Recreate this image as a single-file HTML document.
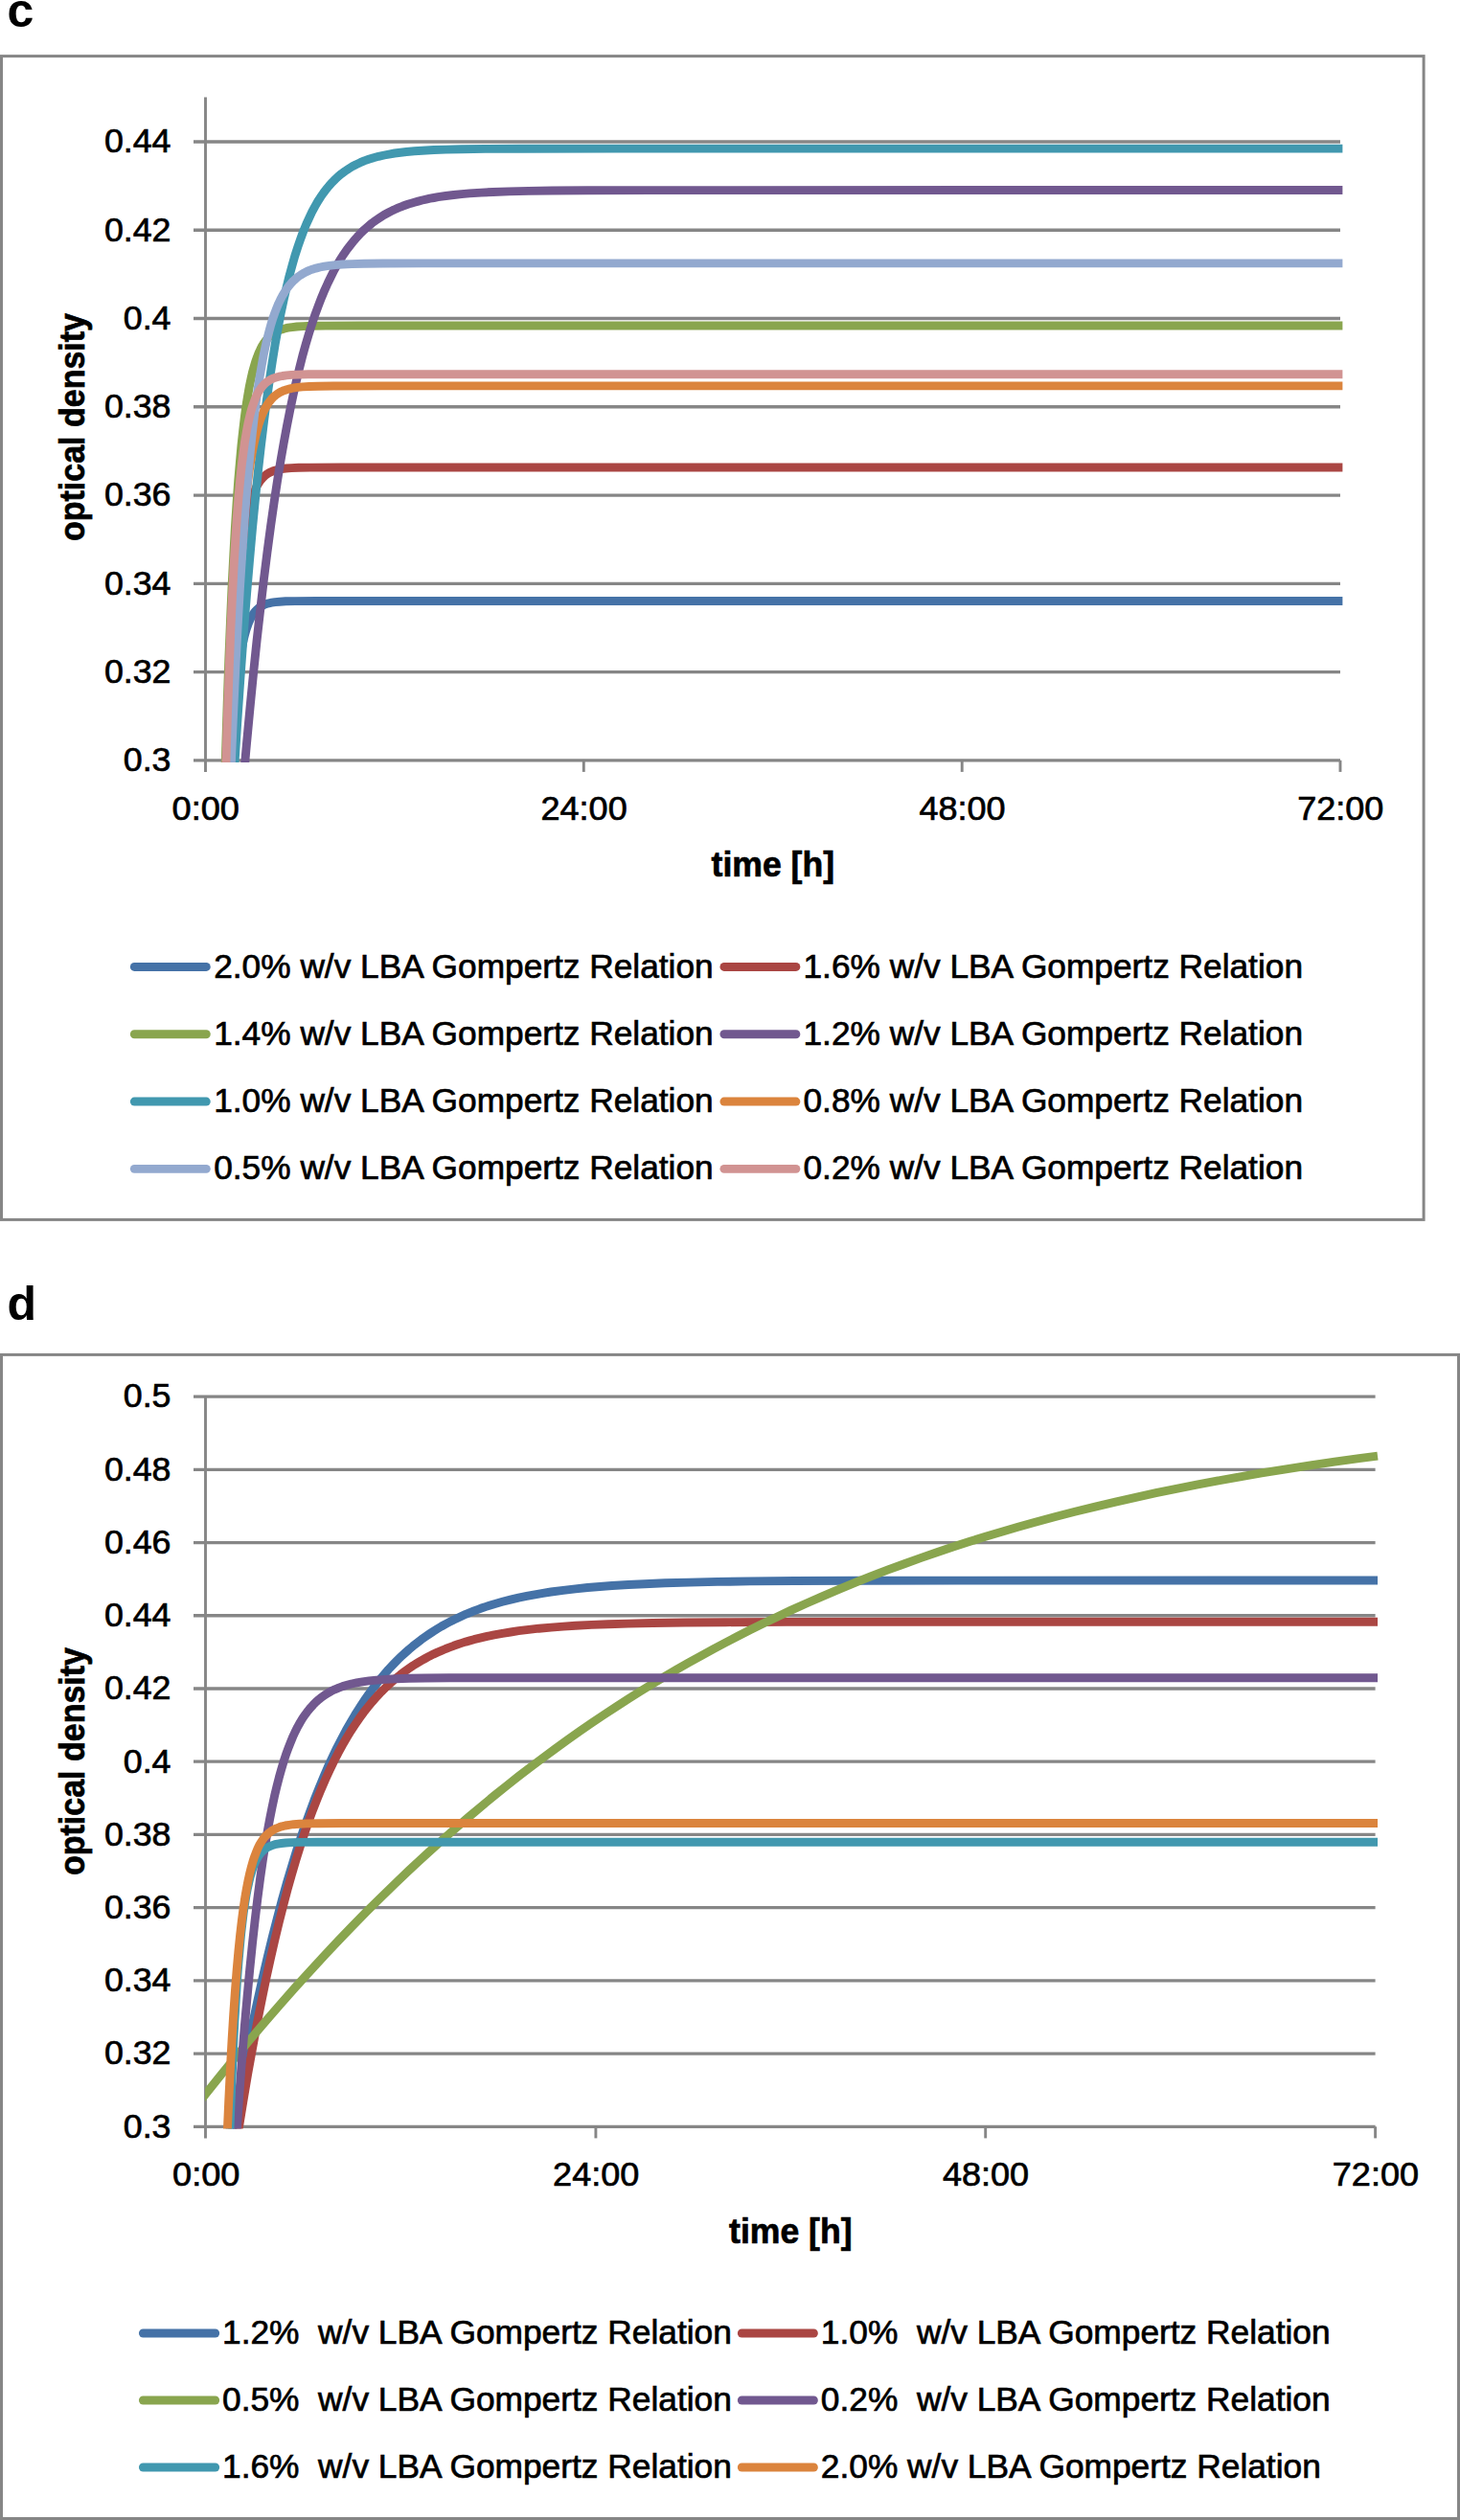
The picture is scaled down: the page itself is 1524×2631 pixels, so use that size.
<!DOCTYPE html>
<html><head><meta charset="utf-8"><title>Gompertz relation charts</title>
<style>html,body{margin:0;padding:0;background:#fff}svg{display:block}text{fill:#000}.r{stroke:#000;stroke-width:0.7px}.b{stroke:#000;stroke-width:0.7px}</style></head><body>
<svg width="1524" height="2631" viewBox="0 0 1524 2631">
<rect width="1524" height="2631" fill="#fff"/>
<text x="7.5" y="27.5" font-family="'Liberation Sans', Arial, Helvetica, sans-serif" font-size="50" font-weight="bold">c</text>
<text x="7.6" y="1378.3" font-family="'Liberation Sans', Arial, Helvetica, sans-serif" font-size="50" font-weight="bold">d</text>
<rect x="1.5" y="58.6" width="1484.6" height="1214.8000000000002" fill="#fff" stroke="#868686" stroke-width="3"/>
<line x1="202.0" y1="793.80" x2="1399.0" y2="793.80" stroke="#868686" stroke-width="3.3"/>
<line x1="202.0" y1="701.54" x2="1399.0" y2="701.54" stroke="#868686" stroke-width="3.3"/>
<line x1="202.0" y1="609.29" x2="1399.0" y2="609.29" stroke="#868686" stroke-width="3.3"/>
<line x1="202.0" y1="517.03" x2="1399.0" y2="517.03" stroke="#868686" stroke-width="3.3"/>
<line x1="202.0" y1="424.77" x2="1399.0" y2="424.77" stroke="#868686" stroke-width="3.3"/>
<line x1="202.0" y1="332.51" x2="1399.0" y2="332.51" stroke="#868686" stroke-width="3.3"/>
<line x1="202.0" y1="240.26" x2="1399.0" y2="240.26" stroke="#868686" stroke-width="3.3"/>
<line x1="202.0" y1="148.00" x2="1399.0" y2="148.00" stroke="#868686" stroke-width="3.3"/>
<line x1="214.5" y1="101.5" x2="214.5" y2="805.9" stroke="#868686" stroke-width="2.9"/>
<line x1="609.3" y1="793.8" x2="609.3" y2="805.9" stroke="#868686" stroke-width="2.9"/>
<line x1="1004.2" y1="793.8" x2="1004.2" y2="805.9" stroke="#868686" stroke-width="2.9"/>
<line x1="1399.0" y1="793.8" x2="1399.0" y2="805.9" stroke="#868686" stroke-width="2.9"/>
<clipPath id="clipc"><rect x="214.1" y="91.5" width="1214.5" height="704.4"/></clipPath>
<g clip-path="url(#clipc)" fill="none" stroke-width="8.9" stroke-linecap="butt" stroke-linejoin="round">
<path d="M235.2,924.5 L236.9,879.8 L238.5,841.3 L239.8,814.4 L241.2,790.7 L242.5,769.9 L243.8,751.6 L245.1,735.5 L246.4,721.5 L247.7,709.2 L249.0,698.5 L250.4,689.2 L251.7,681.1 L253.0,674.0 L254.3,667.8 L255.6,662.5 L256.9,657.8 L258.3,653.8 L259.6,650.3 L260.9,647.3 L262.2,644.6 L263.5,642.3 L265.2,639.9 L266.8,637.9 L268.5,636.2 L270.1,634.7 L271.8,633.6 L273.7,632.4 L275.7,631.4 L278.0,630.6 L280.6,629.8 L283.6,629.2 L287.2,628.6 L291.8,628.2 L298.1,627.8 L307.9,627.6 L330.3,627.5 L1401.4,627.5" stroke="#4572A7"/>
<path d="M234.9,921.4 L236.5,865.1 L238.2,815.2 L239.8,771.1 L241.5,732.5 L243.1,698.7 L244.8,669.3 L246.4,643.7 L248.1,621.6 L249.7,602.6 L251.4,586.1 L253.0,572.0 L254.6,559.8 L256.0,551.4 L257.3,543.9 L258.6,537.2 L259.9,531.4 L261.6,525.1 L263.2,519.6 L264.8,515.0 L266.5,511.0 L268.1,507.6 L269.8,504.7 L271.4,502.3 L273.1,500.2 L274.7,498.4 L276.4,496.8 L278.3,495.3 L280.3,494.0 L282.6,492.8 L284.9,491.8 L287.5,491.0 L290.5,490.2 L294.1,489.5 L298.4,489.0 L304.0,488.6 L311.6,488.3 L323.7,488.1 L356.3,488.0 L1401.4,488.0" stroke="#AA4643"/>
<path d="M231.6,926.4 L233.6,851.3 L235.6,784.1 L237.2,733.9 L238.8,688.6 L240.5,647.9 L242.1,611.6 L243.8,579.2 L245.4,550.4 L247.1,524.9 L248.7,502.3 L250.4,482.3 L252.0,464.7 L253.7,449.2 L255.3,435.6 L256.9,423.7 L258.6,413.2 L260.2,404.0 L261.9,395.9 L263.5,388.8 L265.2,382.7 L266.8,377.2 L268.5,372.5 L270.1,368.4 L271.8,364.8 L273.4,361.6 L275.0,358.9 L276.7,356.5 L278.3,354.4 L280.3,352.2 L282.3,350.3 L284.3,348.8 L286.6,347.2 L288.9,346.0 L291.5,344.8 L294.1,343.9 L297.1,343.0 L300.7,342.2 L305.0,341.6 L309.9,341.0 L316.5,340.6 L325.4,340.3 L339.9,340.1 L379.3,340.0 L1401.4,340.0" stroke="#89A54E"/>
<path d="M244.8,930.1 L249.0,875.5 L253.0,827.8 L256.9,782.6 L260.9,740.0 L264.5,703.2 L268.1,668.5 L271.8,635.8 L275.4,605.0 L279.0,576.1 L282.6,549.1 L286.2,523.8 L289.5,502.2 L292.8,481.9 L296.1,462.9 L299.4,445.1 L302.7,428.4 L306.0,412.7 L309.3,398.0 L312.6,384.3 L315.8,371.5 L319.1,359.6 L322.4,348.4 L325.7,338.0 L329.0,328.2 L332.3,319.2 L335.6,310.7 L338.9,302.8 L342.2,295.5 L345.5,288.7 L348.7,282.3 L352.0,276.4 L355.3,270.8 L358.6,265.7 L362.2,260.5 L365.9,255.7 L369.5,251.2 L373.1,247.1 L376.7,243.3 L380.3,239.8 L384.3,236.3 L388.2,233.0 L392.2,230.1 L396.5,227.2 L400.7,224.5 L405.3,222.0 L409.9,219.6 L411.9,218.7 L416.0,216.9 L420.1,215.3 L424.3,213.8 L428.4,212.4 L432.5,211.2 L436.6,210.1 L440.7,209.0 L444.8,208.1 L448.9,207.2 L453.0,206.5 L457.2,205.7 L465.4,204.5 L473.6,203.5 L481.8,202.6 L490.1,201.9 L502.4,201.1 L514.7,200.5 L531.2,199.9 L551.8,199.4 L576.4,199.0 L613.4,198.7 L679.3,198.6 L1082.3,198.5 L1401.4,198.5" stroke="#71588F"/>
<path d="M237.2,930.4 L240.8,866.3 L244.4,806.0 L247.7,754.6 L251.0,706.4 L254.3,661.4 L257.6,619.4 L260.6,584.2 L263.5,551.3 L266.5,520.6 L269.4,492.1 L272.4,465.5 L275.4,440.9 L278.3,418.1 L281.3,397.0 L284.3,377.4 L287.2,359.4 L290.2,342.7 L293.1,327.3 L296.1,313.2 L299.1,300.1 L302.0,288.1 L305.0,277.1 L307.9,266.9 L310.9,257.6 L313.9,249.0 L316.8,241.1 L319.8,233.9 L322.8,227.3 L325.7,221.2 L328.7,215.6 L331.6,210.5 L334.6,205.8 L337.6,201.5 L340.5,197.6 L343.5,194.0 L346.8,190.3 L350.1,187.0 L353.3,184.0 L356.6,181.3 L360.3,178.6 L363.9,176.2 L367.8,173.8 L371.8,171.7 L376.1,169.7 L380.3,167.9 L384.9,166.3 L389.9,164.7 L395.1,163.3 L401.1,162.0 L407.3,160.8 L411.9,160.0 L416.0,159.5 L424.3,158.5 L432.5,157.8 L440.7,157.2 L453.0,156.5 L465.4,156.1 L481.8,155.7 L506.5,155.4 L543.5,155.2 L642.2,155.1 L1401.4,155.1" stroke="#4198AF"/>
<path d="M236.5,929.4 L238.5,862.4 L240.5,802.6 L242.1,757.9 L243.8,717.7 L245.4,681.5 L247.1,649.1 L248.7,620.3 L250.4,594.6 L252.0,571.7 L253.7,551.5 L255.3,533.6 L256.9,517.7 L258.6,503.8 L260.2,491.4 L261.9,480.6 L263.5,471.0 L265.2,462.7 L266.8,455.3 L268.5,448.8 L270.1,443.1 L271.8,438.1 L273.4,433.7 L275.0,429.9 L276.7,426.6 L278.3,423.6 L280.0,421.0 L281.6,418.8 L283.3,416.8 L285.2,414.7 L287.2,413.0 L289.2,411.5 L291.5,410.0 L293.8,408.8 L296.4,407.7 L299.4,406.7 L302.7,405.8 L306.3,405.0 L310.6,404.4 L315.8,403.9 L322.8,403.5 L332.3,403.2 L348.1,403.0 L398.8,402.9 L1401.4,402.9" stroke="#DB843D"/>
<path d="M236.2,928.5 L238.8,857.1 L241.2,799.6 L243.5,746.8 L245.8,698.5 L248.1,654.4 L250.4,614.4 L252.7,578.2 L255.0,545.4 L257.3,516.0 L259.2,493.1 L261.2,472.3 L263.2,453.4 L265.2,436.2 L267.1,420.6 L269.1,406.4 L271.1,393.6 L273.1,381.9 L275.0,371.4 L277.0,361.9 L279.0,353.3 L281.0,345.6 L282.9,338.6 L284.9,332.2 L286.9,326.5 L288.9,321.4 L290.8,316.8 L292.8,312.6 L294.8,308.8 L297.1,304.9 L299.4,301.4 L301.7,298.3 L304.0,295.6 L306.3,293.2 L308.6,291.1 L311.2,288.9 L313.9,287.1 L316.5,285.5 L319.5,283.9 L322.8,282.4 L326.0,281.2 L329.7,280.1 L333.9,279.0 L338.5,278.1 L343.8,277.3 L350.1,276.6 L357.6,276.0 L367.2,275.6 L380.0,275.2 L399.7,275.0 L440.7,274.9 L1401.4,274.9" stroke="#93A9CF"/>
<path d="M232.6,921.1 L234.2,855.7 L235.9,797.1 L237.5,744.9 L239.2,698.6 L240.8,657.8 L242.5,622.0 L244.1,590.6 L245.8,563.3 L247.4,539.5 L249.0,518.9 L250.7,501.0 L252.3,485.6 L254.0,472.2 L255.6,460.7 L257.3,450.8 L258.9,442.3 L260.6,434.9 L262.2,428.6 L263.9,423.2 L265.5,418.6 L267.1,414.6 L268.8,411.2 L270.4,408.2 L272.1,405.7 L273.7,403.6 L275.4,401.7 L277.0,400.1 L279.0,398.5 L281.0,397.2 L283.3,395.9 L285.6,394.9 L288.2,394.0 L291.2,393.2 L294.8,392.5 L299.1,391.9 L304.3,391.4 L311.2,391.1 L321.8,390.8 L343.8,390.7 L1401.4,390.7" stroke="#D19392"/>
</g>
<text x="178.5" y="805.1" text-anchor="end" class="r" font-family="'Liberation Sans', Arial, Helvetica, sans-serif" font-size="35" textLength="49.7" lengthAdjust="spacingAndGlyphs">0.3</text>
<text x="178.5" y="712.8" text-anchor="end" class="r" font-family="'Liberation Sans', Arial, Helvetica, sans-serif" font-size="35" textLength="69.6" lengthAdjust="spacingAndGlyphs">0.32</text>
<text x="178.5" y="620.6" text-anchor="end" class="r" font-family="'Liberation Sans', Arial, Helvetica, sans-serif" font-size="35" textLength="69.6" lengthAdjust="spacingAndGlyphs">0.34</text>
<text x="178.5" y="528.3" text-anchor="end" class="r" font-family="'Liberation Sans', Arial, Helvetica, sans-serif" font-size="35" textLength="69.6" lengthAdjust="spacingAndGlyphs">0.36</text>
<text x="178.5" y="436.1" text-anchor="end" class="r" font-family="'Liberation Sans', Arial, Helvetica, sans-serif" font-size="35" textLength="69.6" lengthAdjust="spacingAndGlyphs">0.38</text>
<text x="178.5" y="343.8" text-anchor="end" class="r" font-family="'Liberation Sans', Arial, Helvetica, sans-serif" font-size="35" textLength="49.7" lengthAdjust="spacingAndGlyphs">0.4</text>
<text x="178.5" y="251.6" text-anchor="end" class="r" font-family="'Liberation Sans', Arial, Helvetica, sans-serif" font-size="35" textLength="69.6" lengthAdjust="spacingAndGlyphs">0.42</text>
<text x="178.5" y="159.3" text-anchor="end" class="r" font-family="'Liberation Sans', Arial, Helvetica, sans-serif" font-size="35" textLength="69.6" lengthAdjust="spacingAndGlyphs">0.44</text>
<text x="214.8" y="855.6" text-anchor="middle" class="r" font-family="'Liberation Sans', Arial, Helvetica, sans-serif" font-size="35" textLength="70.4" lengthAdjust="spacingAndGlyphs">0:00</text>
<text x="609.6" y="855.6" text-anchor="middle" class="r" font-family="'Liberation Sans', Arial, Helvetica, sans-serif" font-size="35" textLength="90.2" lengthAdjust="spacingAndGlyphs">24:00</text>
<text x="1004.5" y="855.6" text-anchor="middle" class="r" font-family="'Liberation Sans', Arial, Helvetica, sans-serif" font-size="35" textLength="90.2" lengthAdjust="spacingAndGlyphs">48:00</text>
<text x="1399.3" y="855.6" text-anchor="middle" class="r" font-family="'Liberation Sans', Arial, Helvetica, sans-serif" font-size="35" textLength="90.2" lengthAdjust="spacingAndGlyphs">72:00</text>
<text x="806.8" y="915" text-anchor="middle" class="b" font-family="'Liberation Sans', Arial, Helvetica, sans-serif" font-size="36" font-weight="bold" textLength="128.5" lengthAdjust="spacingAndGlyphs">time [h]</text>
<text transform="translate(88,446) rotate(-90)" text-anchor="middle" class="b" font-family="'Liberation Sans', Arial, Helvetica, sans-serif" font-size="36" font-weight="bold" textLength="238" lengthAdjust="spacingAndGlyphs">optical density</text>
<line x1="140.3" y1="1009.45" x2="215.3" y2="1009.45" stroke="#4572A7" stroke-width="8.9" stroke-linecap="round"/>
<text x="223.2" y="1020.6" class="r" font-family="'Liberation Sans', Arial, Helvetica, sans-serif" font-size="35" xml:space="preserve" style="white-space:pre" textLength="521.5" lengthAdjust="spacingAndGlyphs">2.0% w/v LBA Gompertz Relation</text>
<line x1="755.9" y1="1009.45" x2="830.9" y2="1009.45" stroke="#AA4643" stroke-width="8.9" stroke-linecap="round"/>
<text x="838.5" y="1020.6" class="r" font-family="'Liberation Sans', Arial, Helvetica, sans-serif" font-size="35" xml:space="preserve" style="white-space:pre" textLength="521.5" lengthAdjust="spacingAndGlyphs">1.6% w/v LBA Gompertz Relation</text>
<line x1="140.3" y1="1079.75" x2="215.3" y2="1079.75" stroke="#89A54E" stroke-width="8.9" stroke-linecap="round"/>
<text x="223.2" y="1090.8" class="r" font-family="'Liberation Sans', Arial, Helvetica, sans-serif" font-size="35" xml:space="preserve" style="white-space:pre" textLength="521.5" lengthAdjust="spacingAndGlyphs">1.4% w/v LBA Gompertz Relation</text>
<line x1="755.9" y1="1079.75" x2="830.9" y2="1079.75" stroke="#71588F" stroke-width="8.9" stroke-linecap="round"/>
<text x="838.5" y="1090.8" class="r" font-family="'Liberation Sans', Arial, Helvetica, sans-serif" font-size="35" xml:space="preserve" style="white-space:pre" textLength="521.5" lengthAdjust="spacingAndGlyphs">1.2% w/v LBA Gompertz Relation</text>
<line x1="140.3" y1="1150.05" x2="215.3" y2="1150.05" stroke="#4198AF" stroke-width="8.9" stroke-linecap="round"/>
<text x="223.2" y="1161.1" class="r" font-family="'Liberation Sans', Arial, Helvetica, sans-serif" font-size="35" xml:space="preserve" style="white-space:pre" textLength="521.5" lengthAdjust="spacingAndGlyphs">1.0% w/v LBA Gompertz Relation</text>
<line x1="755.9" y1="1150.05" x2="830.9" y2="1150.05" stroke="#DB843D" stroke-width="8.9" stroke-linecap="round"/>
<text x="838.5" y="1161.1" class="r" font-family="'Liberation Sans', Arial, Helvetica, sans-serif" font-size="35" xml:space="preserve" style="white-space:pre" textLength="521.5" lengthAdjust="spacingAndGlyphs">0.8% w/v LBA Gompertz Relation</text>
<line x1="140.3" y1="1220.35" x2="215.3" y2="1220.35" stroke="#93A9CF" stroke-width="8.9" stroke-linecap="round"/>
<text x="223.2" y="1231.4" class="r" font-family="'Liberation Sans', Arial, Helvetica, sans-serif" font-size="35" xml:space="preserve" style="white-space:pre" textLength="521.5" lengthAdjust="spacingAndGlyphs">0.5% w/v LBA Gompertz Relation</text>
<line x1="755.9" y1="1220.35" x2="830.9" y2="1220.35" stroke="#D19392" stroke-width="8.9" stroke-linecap="round"/>
<text x="838.5" y="1231.4" class="r" font-family="'Liberation Sans', Arial, Helvetica, sans-serif" font-size="35" xml:space="preserve" style="white-space:pre" textLength="521.5" lengthAdjust="spacingAndGlyphs">0.2% w/v LBA Gompertz Relation</text>
<rect x="1.5" y="1414.4" width="1521.0" height="1215.1" fill="#fff" stroke="#868686" stroke-width="3"/>
<line x1="202.0" y1="2220.30" x2="1435.6" y2="2220.30" stroke="#868686" stroke-width="3.3"/>
<line x1="202.0" y1="2144.08" x2="1435.6" y2="2144.08" stroke="#868686" stroke-width="3.3"/>
<line x1="202.0" y1="2067.86" x2="1435.6" y2="2067.86" stroke="#868686" stroke-width="3.3"/>
<line x1="202.0" y1="1991.64" x2="1435.6" y2="1991.64" stroke="#868686" stroke-width="3.3"/>
<line x1="202.0" y1="1915.42" x2="1435.6" y2="1915.42" stroke="#868686" stroke-width="3.3"/>
<line x1="202.0" y1="1839.20" x2="1435.6" y2="1839.20" stroke="#868686" stroke-width="3.3"/>
<line x1="202.0" y1="1762.98" x2="1435.6" y2="1762.98" stroke="#868686" stroke-width="3.3"/>
<line x1="202.0" y1="1686.76" x2="1435.6" y2="1686.76" stroke="#868686" stroke-width="3.3"/>
<line x1="202.0" y1="1610.54" x2="1435.6" y2="1610.54" stroke="#868686" stroke-width="3.3"/>
<line x1="202.0" y1="1534.32" x2="1435.6" y2="1534.32" stroke="#868686" stroke-width="3.3"/>
<line x1="202.0" y1="1458.10" x2="1435.6" y2="1458.10" stroke="#868686" stroke-width="3.3"/>
<line x1="214.5" y1="1458.1" x2="214.5" y2="2232.4" stroke="#868686" stroke-width="2.9"/>
<line x1="621.9" y1="2220.3" x2="621.9" y2="2232.4" stroke="#868686" stroke-width="2.9"/>
<line x1="1028.7" y1="2220.3" x2="1028.7" y2="2232.4" stroke="#868686" stroke-width="2.9"/>
<line x1="1435.6" y1="2220.3" x2="1435.6" y2="2232.4" stroke="#868686" stroke-width="2.9"/>
<clipPath id="clipd"><rect x="214.1" y="1448.1" width="1250.6" height="774.3"/></clipPath>
<g clip-path="url(#clipd)" fill="none" stroke-width="8.9" stroke-linecap="butt" stroke-linejoin="round">
<path d="M224.5,2332.8 L230.6,2294.5 L236.4,2259.7 L242.1,2226.2 L247.5,2196.0 L253.0,2167.0 L258.4,2139.1 L263.8,2112.5 L268.9,2088.6 L274.0,2065.7 L279.1,2043.8 L284.2,2022.9 L289.3,2003.0 L294.3,1984.0 L299.4,1965.8 L304.2,1949.7 L308.9,1934.3 L313.7,1919.7 L318.4,1905.7 L323.2,1892.4 L327.9,1879.7 L332.7,1867.6 L337.4,1856.2 L342.1,1845.2 L346.9,1834.9 L351.6,1825.0 L356.4,1815.7 L361.1,1806.8 L365.9,1798.4 L370.6,1790.4 L375.4,1782.8 L380.1,1775.6 L385.2,1768.3 L390.3,1761.4 L395.4,1754.9 L400.5,1748.8 L405.5,1743.0 L410.6,1737.6 L415.7,1732.4 L418.4,1729.8 L422.7,1725.9 L426.9,1722.1 L431.1,1718.6 L435.4,1715.2 L439.6,1711.9 L443.9,1708.9 L448.1,1706.0 L452.3,1703.2 L456.6,1700.5 L460.8,1698.0 L465.1,1695.6 L469.3,1693.4 L473.5,1691.2 L477.8,1689.2 L482.0,1687.2 L486.2,1685.3 L490.5,1683.6 L494.7,1681.9 L499.0,1680.3 L503.2,1678.8 L507.4,1677.4 L511.7,1676.0 L515.9,1674.7 L524.4,1672.3 L532.9,1670.1 L541.3,1668.1 L549.8,1666.4 L558.3,1664.8 L566.8,1663.3 L575.2,1662.0 L588.0,1660.3 L600.7,1658.8 L613.4,1657.5 L626.1,1656.5 L638.8,1655.5 L655.8,1654.5 L672.7,1653.7 L693.9,1652.8 L719.3,1652.1 L749.0,1651.4 L782.9,1650.9 L829.5,1650.5 L893.1,1650.2 L999.1,1650.1 L1355.1,1650.0 L1438.0,1650.0" stroke="#4572A7"/>
<path d="M232.6,2333.4 L238.1,2295.3 L243.5,2258.9 L248.6,2226.2 L253.7,2194.9 L258.7,2165.1 L263.5,2138.6 L268.2,2113.2 L273.0,2089.1 L277.7,2066.2 L282.5,2044.3 L286.9,2025.1 L291.3,2006.7 L295.7,1989.3 L300.1,1972.7 L304.5,1957.0 L308.9,1942.1 L313.3,1927.9 L317.7,1914.5 L322.1,1901.8 L326.5,1889.8 L331.0,1878.4 L335.4,1867.6 L339.8,1857.5 L344.2,1847.9 L348.6,1838.8 L353.0,1830.2 L357.4,1822.1 L361.8,1814.5 L366.2,1807.3 L370.6,1800.6 L375.0,1794.2 L379.4,1788.1 L383.8,1782.5 L388.6,1776.7 L393.3,1771.4 L398.1,1766.3 L402.8,1761.6 L407.6,1757.2 L412.7,1752.7 L417.8,1748.6 L422.7,1744.9 L426.9,1741.9 L431.1,1739.0 L435.4,1736.4 L439.6,1733.9 L443.9,1731.5 L448.1,1729.2 L452.3,1727.1 L456.6,1725.1 L460.8,1723.3 L465.1,1721.5 L469.3,1719.9 L473.5,1718.3 L477.8,1716.8 L482.0,1715.4 L486.2,1714.1 L490.5,1712.9 L494.7,1711.7 L499.0,1710.7 L507.4,1708.7 L515.9,1706.9 L524.4,1705.3 L532.9,1704.0 L541.3,1702.7 L549.8,1701.6 L562.5,1700.2 L575.2,1699.1 L588.0,1698.1 L600.7,1697.3 L617.6,1696.4 L634.6,1695.7 L655.8,1695.1 L681.2,1694.5 L715.1,1694.0 L757.5,1693.7 L821.1,1693.4 L944.0,1693.3 L1438.0,1693.2" stroke="#AA4643"/>
<path d="M198.0,2207.4 L214.3,2186.7 L230.3,2166.8 L246.2,2147.3 L261.8,2128.5 L277.4,2110.2 L292.6,2092.6 L307.9,2075.3 L323.2,2058.4 L338.1,2042.2 L353.0,2026.4 L367.9,2010.9 L382.8,1995.7 L397.8,1980.9 L412.7,1966.4 L426.9,1952.8 L439.6,1941.0 L452.3,1929.4 L465.1,1918.0 L477.8,1906.9 L490.5,1896.0 L503.2,1885.3 L515.9,1874.8 L528.6,1864.6 L541.3,1854.6 L554.1,1844.8 L566.8,1835.2 L579.5,1825.8 L592.2,1816.7 L604.9,1807.7 L617.6,1798.9 L630.3,1790.4 L643.1,1782.0 L655.8,1773.8 L668.5,1765.8 L681.2,1758.0 L693.9,1750.4 L706.6,1742.9 L719.3,1735.7 L732.1,1728.6 L744.8,1721.6 L757.5,1714.9 L770.2,1708.3 L782.9,1701.8 L795.6,1695.5 L808.3,1689.4 L825.3,1681.4 L842.3,1673.7 L859.2,1666.3 L876.2,1659.1 L893.1,1652.2 L910.1,1645.4 L927.0,1638.9 L944.0,1632.7 L960.9,1626.6 L977.9,1620.7 L994.8,1615.0 L1011.8,1609.6 L1028.7,1604.3 L1045.7,1599.2 L1062.6,1594.3 L1079.6,1589.5 L1100.8,1583.8 L1122.0,1578.3 L1143.2,1573.1 L1164.4,1568.1 L1185.5,1563.3 L1206.7,1558.7 L1227.9,1554.3 L1249.1,1550.1 L1270.3,1546.1 L1291.5,1542.3 L1316.9,1537.9 L1342.4,1533.8 L1367.8,1529.8 L1393.2,1526.1 L1418.6,1522.6 L1438.0,1520.1" stroke="#89A54E"/>
<path d="M240.4,2332.3 L243.5,2281.5 L246.5,2234.0 L249.6,2189.9 L252.6,2149.1 L255.3,2115.5 L258.1,2084.3 L260.8,2055.5 L263.5,2028.9 L266.2,2004.4 L268.9,1981.9 L271.6,1961.2 L274.3,1942.3 L277.0,1925.0 L279.4,1911.0 L281.8,1898.1 L284.2,1886.2 L286.5,1875.3 L288.9,1865.2 L291.3,1855.8 L293.7,1847.3 L296.0,1839.4 L298.4,1832.1 L300.8,1825.5 L303.2,1819.3 L305.5,1813.7 L307.9,1808.5 L310.6,1803.1 L313.3,1798.3 L316.0,1793.8 L318.8,1789.8 L321.5,1786.2 L324.2,1782.9 L326.9,1779.9 L329.9,1776.9 L333.0,1774.2 L336.0,1771.8 L339.1,1769.6 L342.5,1767.5 L345.9,1765.6 L349.6,1763.8 L353.7,1762.1 L357.7,1760.6 L362.2,1759.3 L366.9,1758.0 L372.3,1756.9 L378.4,1755.8 L385.2,1754.9 L393.0,1754.1 L402.2,1753.4 L413.0,1752.8 L426.9,1752.3 L443.9,1752.0 L469.3,1751.8 L524.4,1751.7 L1438.0,1751.7" stroke="#71588F"/>
<path d="M236.7,2326.0 L238.4,2269.3 L240.1,2219.5 L241.8,2175.9 L243.5,2138.2 L244.8,2111.8 L246.2,2088.4 L247.5,2067.7 L248.9,2049.5 L250.3,2033.5 L251.6,2019.4 L253.0,2007.1 L254.3,1996.3 L255.7,1986.9 L257.0,1978.7 L258.4,1971.5 L259.8,1965.2 L261.1,1959.7 L262.5,1955.0 L263.8,1950.8 L265.2,1947.2 L266.5,1944.1 L267.9,1941.3 L269.2,1939.0 L270.9,1936.4 L272.6,1934.3 L274.3,1932.5 L276.0,1931.0 L277.7,1929.7 L279.8,1928.5 L281.8,1927.5 L284.2,1926.6 L286.9,1925.7 L289.9,1925.1 L293.7,1924.5 L298.4,1924.0 L304.5,1923.6 L313.7,1923.4 L332.0,1923.3 L1438.0,1923.2" stroke="#4198AF"/>
<path d="M233.3,2331.9 L235.3,2275.0 L237.0,2232.5 L238.7,2194.2 L240.4,2159.9 L242.1,2129.2 L243.8,2101.9 L245.5,2077.6 L247.2,2056.2 L248.9,2037.2 L250.6,2020.5 L252.3,2005.8 L254.0,1992.9 L255.7,1981.5 L257.4,1971.6 L259.1,1962.9 L260.8,1955.3 L262.5,1948.7 L264.2,1942.8 L265.9,1937.8 L267.6,1933.4 L269.2,1929.5 L270.9,1926.1 L272.6,1923.2 L274.3,1920.7 L276.0,1918.4 L277.7,1916.5 L279.8,1914.5 L281.8,1912.8 L283.8,1911.4 L286.2,1910.0 L288.6,1908.8 L291.3,1907.8 L294.3,1906.8 L297.7,1906.0 L301.8,1905.3 L306.5,1904.7 L312.6,1904.3 L320.8,1903.9 L333.0,1903.7 L358.4,1903.5 L1438.0,1903.5" stroke="#DB843D"/>
</g>
<text x="178.5" y="2231.6" text-anchor="end" class="r" font-family="'Liberation Sans', Arial, Helvetica, sans-serif" font-size="35" textLength="49.7" lengthAdjust="spacingAndGlyphs">0.3</text>
<text x="178.5" y="2155.4" text-anchor="end" class="r" font-family="'Liberation Sans', Arial, Helvetica, sans-serif" font-size="35" textLength="69.6" lengthAdjust="spacingAndGlyphs">0.32</text>
<text x="178.5" y="2079.2" text-anchor="end" class="r" font-family="'Liberation Sans', Arial, Helvetica, sans-serif" font-size="35" textLength="69.6" lengthAdjust="spacingAndGlyphs">0.34</text>
<text x="178.5" y="2002.9" text-anchor="end" class="r" font-family="'Liberation Sans', Arial, Helvetica, sans-serif" font-size="35" textLength="69.6" lengthAdjust="spacingAndGlyphs">0.36</text>
<text x="178.5" y="1926.7" text-anchor="end" class="r" font-family="'Liberation Sans', Arial, Helvetica, sans-serif" font-size="35" textLength="69.6" lengthAdjust="spacingAndGlyphs">0.38</text>
<text x="178.5" y="1850.5" text-anchor="end" class="r" font-family="'Liberation Sans', Arial, Helvetica, sans-serif" font-size="35" textLength="49.7" lengthAdjust="spacingAndGlyphs">0.4</text>
<text x="178.5" y="1774.3" text-anchor="end" class="r" font-family="'Liberation Sans', Arial, Helvetica, sans-serif" font-size="35" textLength="69.6" lengthAdjust="spacingAndGlyphs">0.42</text>
<text x="178.5" y="1698.1" text-anchor="end" class="r" font-family="'Liberation Sans', Arial, Helvetica, sans-serif" font-size="35" textLength="69.6" lengthAdjust="spacingAndGlyphs">0.44</text>
<text x="178.5" y="1621.8" text-anchor="end" class="r" font-family="'Liberation Sans', Arial, Helvetica, sans-serif" font-size="35" textLength="69.6" lengthAdjust="spacingAndGlyphs">0.46</text>
<text x="178.5" y="1545.6" text-anchor="end" class="r" font-family="'Liberation Sans', Arial, Helvetica, sans-serif" font-size="35" textLength="69.6" lengthAdjust="spacingAndGlyphs">0.48</text>
<text x="178.5" y="1469.4" text-anchor="end" class="r" font-family="'Liberation Sans', Arial, Helvetica, sans-serif" font-size="35" textLength="49.7" lengthAdjust="spacingAndGlyphs">0.5</text>
<text x="215.3" y="2282" text-anchor="middle" class="r" font-family="'Liberation Sans', Arial, Helvetica, sans-serif" font-size="35" textLength="70.4" lengthAdjust="spacingAndGlyphs">0:00</text>
<text x="622.2" y="2282" text-anchor="middle" class="r" font-family="'Liberation Sans', Arial, Helvetica, sans-serif" font-size="35" textLength="90.2" lengthAdjust="spacingAndGlyphs">24:00</text>
<text x="1029.0" y="2282" text-anchor="middle" class="r" font-family="'Liberation Sans', Arial, Helvetica, sans-serif" font-size="35" textLength="90.2" lengthAdjust="spacingAndGlyphs">48:00</text>
<text x="1435.9" y="2282" text-anchor="middle" class="r" font-family="'Liberation Sans', Arial, Helvetica, sans-serif" font-size="35" textLength="90.2" lengthAdjust="spacingAndGlyphs">72:00</text>
<text x="825.3" y="2342" text-anchor="middle" class="b" font-family="'Liberation Sans', Arial, Helvetica, sans-serif" font-size="36" font-weight="bold" textLength="128.5" lengthAdjust="spacingAndGlyphs">time [h]</text>
<text transform="translate(88,1839) rotate(-90)" text-anchor="middle" class="b" font-family="'Liberation Sans', Arial, Helvetica, sans-serif" font-size="36" font-weight="bold" textLength="238" lengthAdjust="spacingAndGlyphs">optical density</text>
<line x1="149.4" y1="2436.0" x2="224.7" y2="2436.0" stroke="#4572A7" stroke-width="8.9" stroke-linecap="round"/>
<text x="232" y="2447.1" class="r" font-family="'Liberation Sans', Arial, Helvetica, sans-serif" font-size="35" xml:space="preserve" style="white-space:pre" textLength="531.8" lengthAdjust="spacingAndGlyphs">1.2%  w/v LBA Gompertz Relation</text>
<line x1="774.3" y1="2436.0" x2="849.4" y2="2436.0" stroke="#AA4643" stroke-width="8.9" stroke-linecap="round"/>
<text x="856.8" y="2447.1" class="r" font-family="'Liberation Sans', Arial, Helvetica, sans-serif" font-size="35" xml:space="preserve" style="white-space:pre" textLength="531.8" lengthAdjust="spacingAndGlyphs">1.0%  w/v LBA Gompertz Relation</text>
<line x1="149.4" y1="2506.0" x2="224.7" y2="2506.0" stroke="#89A54E" stroke-width="8.9" stroke-linecap="round"/>
<text x="232" y="2517.1" class="r" font-family="'Liberation Sans', Arial, Helvetica, sans-serif" font-size="35" xml:space="preserve" style="white-space:pre" textLength="531.8" lengthAdjust="spacingAndGlyphs">0.5%  w/v LBA Gompertz Relation</text>
<line x1="774.3" y1="2506.0" x2="849.4" y2="2506.0" stroke="#71588F" stroke-width="8.9" stroke-linecap="round"/>
<text x="856.8" y="2517.1" class="r" font-family="'Liberation Sans', Arial, Helvetica, sans-serif" font-size="35" xml:space="preserve" style="white-space:pre" textLength="531.8" lengthAdjust="spacingAndGlyphs">0.2%  w/v LBA Gompertz Relation</text>
<line x1="149.4" y1="2576.0" x2="224.7" y2="2576.0" stroke="#4198AF" stroke-width="8.9" stroke-linecap="round"/>
<text x="232" y="2587.1" class="r" font-family="'Liberation Sans', Arial, Helvetica, sans-serif" font-size="35" xml:space="preserve" style="white-space:pre" textLength="531.8" lengthAdjust="spacingAndGlyphs">1.6%  w/v LBA Gompertz Relation</text>
<line x1="774.3" y1="2576.0" x2="849.4" y2="2576.0" stroke="#DB843D" stroke-width="8.9" stroke-linecap="round"/>
<text x="856.8" y="2587.1" class="r" font-family="'Liberation Sans', Arial, Helvetica, sans-serif" font-size="35" xml:space="preserve" style="white-space:pre" textLength="522" lengthAdjust="spacingAndGlyphs">2.0% w/v LBA Gompertz Relation</text>
</svg></body></html>
